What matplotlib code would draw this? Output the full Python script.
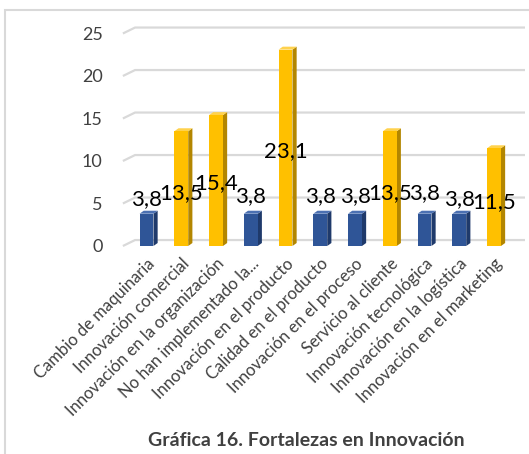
import matplotlib.pyplot as plt
from matplotlib.patches import Polygon, Rectangle

categorias = ['Cambio de maquinaria', 'Innovación comercial', 'Innovación en la organización',
              'No han implementado la...', 'Innovación en el producto', 'Calidad en el producto',
              'Innovación en el proceso', 'Servicio al cliente', 'Innovación tecnológica',
              'Innovación en la logística', 'Innovación en el marketing']
valores = [3.8, 13.5, 15.4, 3.8, 23.1, 3.8, 3.8, 13.5, 3.8, 3.8, 11.5]
# altura aproximada donde Excel dejó cada etiqueta
etiqueta_y = [5.5, 6.2, 7.4, 5.9, 11.2, 5.9, 5.9, 6.2, 6.2, 5.5, 5.2]
ticks_y = [0, 5, 10, 15, 20, 25]

plt.rcParams['font.family'] = ['Lato', 'DejaVu Sans']

azul = ('#2F5597', '#1F3A6B', '#4B70B2')
oro = ('#FFC000', '#B38600', '#FFD24D')

fig = plt.figure(figsize=(5.29, 4.54), dpi=100)
ax = fig.add_axes([0.231, 0.4488, 0.762, 0.4999])

w = 0.4      # ancho frontal
sx, sy = 0.12, 0.35   # profundidad de la barra
gx, gy = 0.35, 0.7    # profundidad del fondo

# líneas de la pared del fondo
for t in ticks_y:
    ax.plot([-0.68, -0.68 + gx, 10.9], [t, t + gy, t + gy], color='#d9d9d9', lw=1.6,
            zorder=1, solid_capstyle='butt')

for i, v in enumerate(valores):
    frente, lado, tapa = azul if v < 5 else oro
    x0, x1 = i - w / 2, i + w / 2
    ax.add_patch(Polygon([(x1, 0), (x1 + sx, sy), (x1 + sx, v + sy), (x1, v)],
                         closed=True, fc=lado, ec='none', zorder=2))
    ax.add_patch(Polygon([(x0, v), (x1, v), (x1 + sx, v + sy), (x0 + sx, v + sy)],
                         closed=True, fc=tapa, ec='none', zorder=2))
    ax.add_patch(Rectangle((x0, 0), w, v, fc=frente, ec='none', zorder=3))
    ax.text(i, etiqueta_y[i], f'{v:.1f}'.replace('.', ','), ha='center', va='center',
            fontsize=16, color='black', zorder=5)

ax.set_xlim(-0.7, 10.9)
ax.set_ylim(-0.5, 26.2)
ax.set_yticks(ticks_y)
ax.set_yticklabels([str(t) for t in ticks_y], fontsize=13, color='#404040')
ax.set_xticks(range(len(categorias)))
ax.set_xticklabels(categorias, rotation=45, ha='right', rotation_mode='anchor',
                   fontsize=12, color='#404040')
ax.tick_params(axis='y', length=0, pad=14)
ax.tick_params(axis='x', length=0, pad=4)
for s in ax.spines.values():
    s.set_visible(False)

fig.text(306 / 529, 1 - 441 / 454, 'Gráfica 16. Fortalezas en Innovación', ha='center',
         va='center', fontsize=14, fontweight='bold', color='#404040')

# marco exterior del gráfico
fig.patches.append(Rectangle((5 / 529, -0.05), 1.2, 1 - 10 / 454 + 0.05, transform=fig.transFigure,
                             fill=False, ec='#d9d9d9', lw=1.5))

fig.savefig('out.png', dpi=100)
